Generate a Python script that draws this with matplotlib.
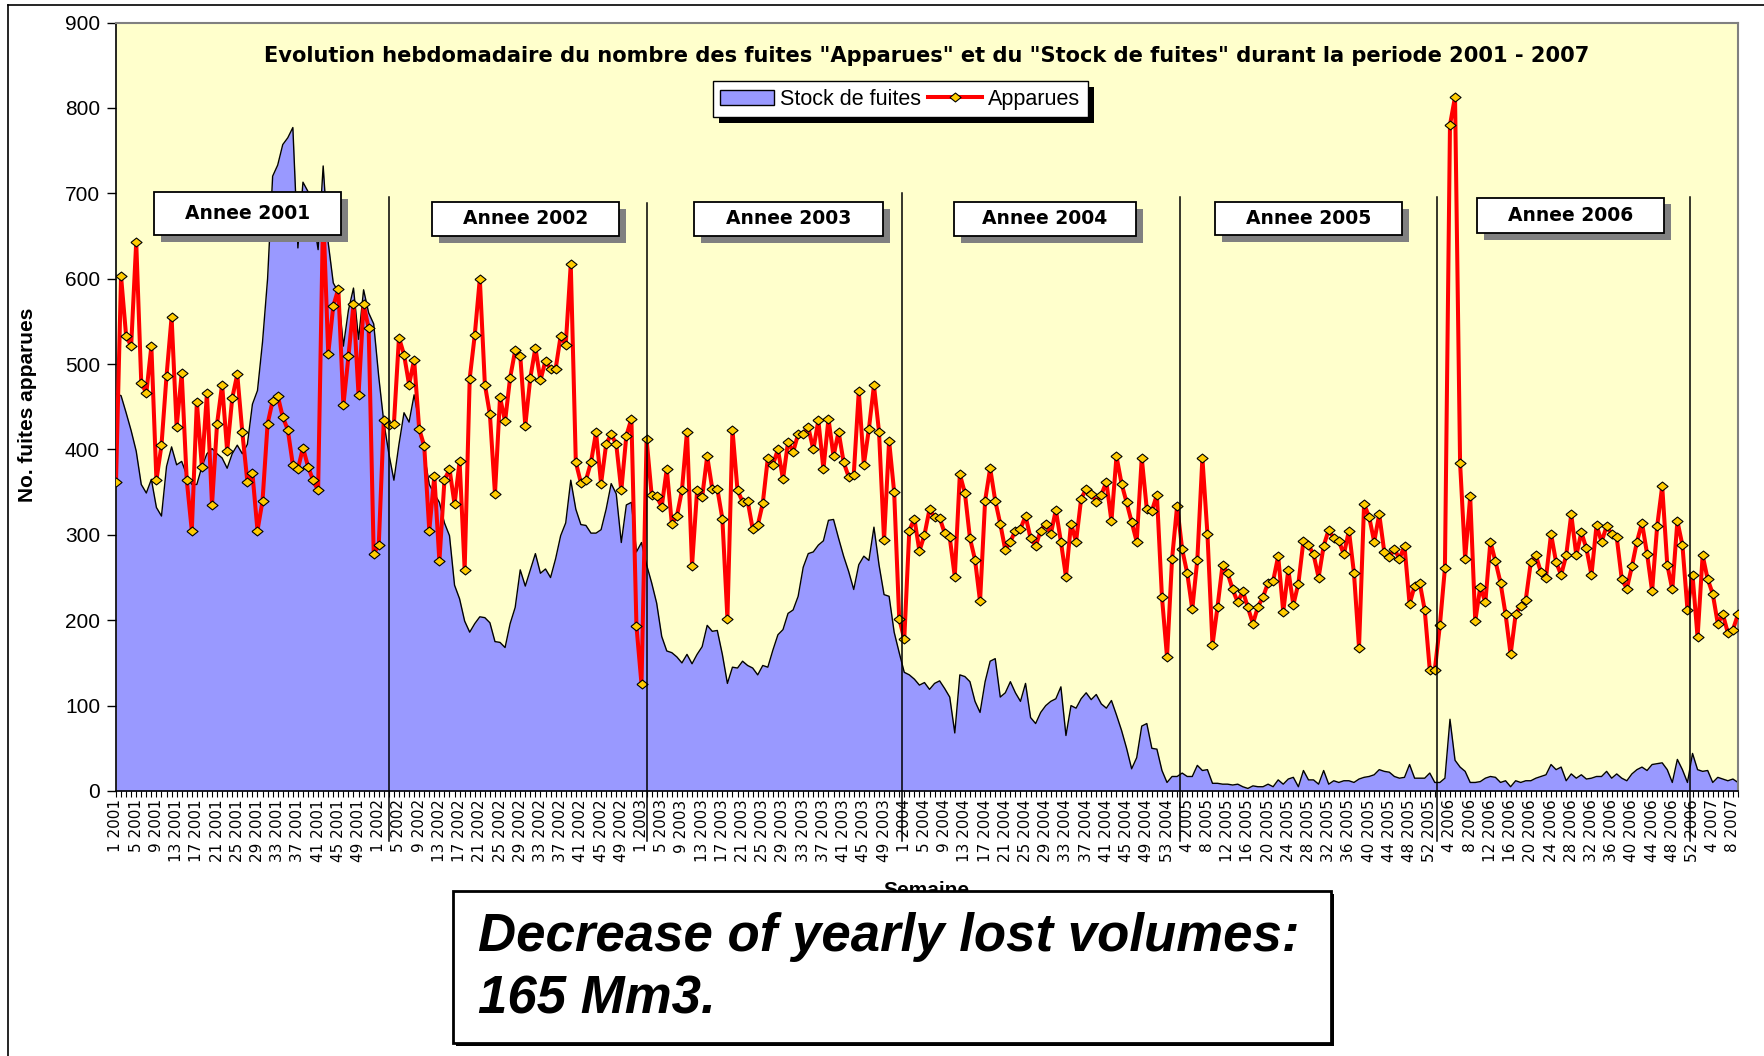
import matplotlib
matplotlib.use("Agg")
import matplotlib.pyplot as plt
import numpy as np
from matplotlib import font_manager
from matplotlib.lines import Line2D
from matplotlib.patches import Patch, Rectangle
from matplotlib.transforms import IdentityTransform

# weekly values, one list per year
YEARS = [2001, 2002, 2003, 2004, 2005, 2006, 2007]

apparues_2001 = [362, 603, 533, 521, 643, 478, 466, 521, 364, 405, 486, 555, 426, 489, 364, 305,
                 456, 379, 466, 335, 430, 476, 398, 460, 488, 420, 362, 372, 305, 340, 430, 457,
                 463, 438, 423, 382, 377, 402, 380, 364, 352, 680, 512, 568, 588, 452, 509, 570,
                 464, 570, 542, 278]
apparues_2002 = [288, 435, 429, 430, 531, 511, 476, 505, 424, 404, 305, 369, 269, 364, 377, 336,
                 386, 259, 483, 534, 600, 476, 441, 348, 461, 433, 484, 516, 510, 428, 484, 519,
                 481, 504, 494, 494, 533, 522, 617, 385, 361, 364, 385, 420, 360, 406, 418, 406,
                 352, 416, 436, 193]
apparues_2003 = [125, 412, 347, 345, 333, 377, 313, 322, 352, 421, 264, 352, 344, 392, 354, 354,
                 319, 202, 423, 352, 339, 340, 307, 311, 337, 390, 382, 400, 365, 409, 397, 418,
                 418, 426, 400, 434, 377, 436, 392, 421, 385, 368, 370, 468, 382, 424, 475, 421,
                 294, 410, 350, 202]
apparues_2004 = [178, 305, 319, 281, 300, 330, 321, 320, 302, 297, 251, 371, 349, 296, 271, 222,
                 340, 378, 340, 313, 282, 292, 305, 307, 322, 296, 287, 305, 313, 301, 329, 292,
                 251, 313, 292, 342, 354, 348, 339, 347, 362, 316, 392, 360, 338, 315, 292, 390,
                 330, 328, 347, 227, 157]
apparues_2005 = [272, 334, 283, 255, 213, 271, 390, 301, 171, 216, 265, 255, 236, 221, 234, 215,
                 196, 216, 227, 244, 246, 275, 210, 259, 218, 243, 293, 288, 277, 250, 287, 306,
                 296, 293, 277, 305, 255, 168, 336, 321, 292, 324, 280, 274, 283, 272, 287, 219,
                 240, 244, 212, 142]
apparues_2006 = [142, 194, 261, 780, 813, 384, 272, 345, 199, 239, 221, 292, 269, 244, 207, 160,
                 207, 217, 224, 268, 276, 256, 250, 301, 268, 253, 276, 324, 276, 303, 284, 253,
                 311, 292, 310, 301, 297, 248, 237, 263, 292, 314, 278, 234, 310, 357, 265, 236,
                 316, 288, 212, 253]
apparues_2007 = [180, 276, 248, 231, 196, 207, 185, 189, 207]

stock_2001 = [465, 463, 443, 422, 398, 359, 349, 365, 332, 322, 380, 403, 382, 386, 370, 359,
              359, 380, 395, 401, 395, 390, 378, 395, 405, 395, 406, 453, 469, 526, 600, 720,
              733, 757, 765, 777, 636, 713, 702, 673, 634, 732, 642, 595, 584, 521, 563, 589,
              529, 587, 560, 547]
stock_2002 = [485, 432, 395, 364, 406, 443, 432, 464, 432, 395, 359, 348, 338, 314, 299, 241,
              225, 199, 186, 196, 204, 203, 197, 175, 174, 168, 196, 215, 259, 240, 259, 278,
              255, 260, 250, 272, 299, 314, 364, 330, 312, 311, 302, 302, 306, 330, 360, 348,
              291, 335, 338, 280]
stock_2003 = [291, 265, 244, 220, 181, 164, 162, 157, 150, 160, 149, 160, 169, 194, 187, 188,
              160, 126, 145, 144, 152, 147, 144, 136, 147, 145, 165, 183, 189, 208, 212, 228,
              262, 278, 280, 288, 293, 317, 318, 296, 275, 257, 236, 265, 275, 270, 309, 265,
              230, 228, 186, 162]
stock_2004 = [139, 136, 131, 124, 127, 119, 126, 129, 120, 110, 68, 136, 134, 128, 105, 92,
              128, 152, 155, 110, 115, 128, 115, 105, 126, 86, 79, 92, 100, 105, 108, 122,
              65, 100, 97, 108, 115, 107, 113, 102, 97, 106, 89, 71, 50, 26, 39, 76,
              79, 50, 49, 24, 10]
stock_2005 = [17, 17, 21, 17, 17, 30, 24, 25, 9, 9, 8, 8, 7, 8, 5, 3,
              6, 5, 5, 8, 5, 13, 8, 14, 16, 5, 24, 13, 13, 8, 24, 8,
              12, 10, 12, 12, 10, 14, 16, 17, 19, 25, 23, 22, 17, 15, 16, 31,
              15, 15, 15, 21]
stock_2006 = [10, 10, 15, 84, 36, 28, 23, 10, 10, 11, 15, 17, 16, 10, 12, 5,
              12, 10, 12, 12, 15, 17, 19, 31, 25, 28, 12, 20, 15, 19, 14, 15,
              17, 17, 23, 15, 20, 15, 12, 20, 25, 28, 24, 31, 32, 33, 25, 10,
              37, 25, 10, 44]
stock_2007 = [25, 23, 24, 10, 16, 14, 12, 14, 10]

APPARUES = [apparues_2001, apparues_2002, apparues_2003, apparues_2004,
            apparues_2005, apparues_2006, apparues_2007]
STOCK = [stock_2001, stock_2002, stock_2003, stock_2004, stock_2005, stock_2006, stock_2007]
YEAR_LABELS = ["Annee 2001", "Annee 2002", "Annee 2003", "Annee 2004", "Annee 2005", "Annee 2006"]

apparues = np.concatenate(APPARUES)
stock = np.concatenate(STOCK)
weeks = [f"{w} {y}" for y, vals in zip(YEARS, APPARUES) for w in range(1, len(vals) + 1)]
x = np.arange(len(apparues))

# layout (positions in week-index / value units)
SEP_X = [54, 105, 155.5, 210.5, 261.5, 311.5]
SEP_TOP = [696, 689, 700, 696, 696, 696]
BOXES = [(7.5, 651, 37, 50), (62.5, 650, 37, 40), (114.4, 650, 37.4, 40),
         (165.8, 650, 36, 40), (217.5, 651, 37, 39), (269.3, 653, 37, 42)]

names = {f.name for f in font_manager.fontManager.ttflist}
NARROW = "Liberation Sans Narrow" if "Liberation Sans Narrow" in names else "Liberation Sans"
plt.rcParams["font.family"] = ["Liberation Sans", "DejaVu Sans"]

fig = plt.figure(figsize=(17.64, 10.56), dpi=100)
ax = fig.add_axes([116 / 1764, 1 - 791 / 1056, 1622 / 1764, 768.5 / 1056])
ax.set_facecolor("#FFFFCC")

ax.fill_between(x, stock, 0, color="#9999FF", lw=0, zorder=1)
ax.plot(x, stock, color="black", lw=1.0, zorder=2)
diamond = [(-1, 0), (0, 0.8), (1, 0), (0, -0.8), (-1, 0)]
ax.plot(x, apparues, color="#FF0000", lw=2.9, marker=diamond, ms=8,
        mfc="#FFCC00", mec="black", mew=0.8, zorder=3)

for sx, top in zip(SEP_X, SEP_TOP):
    ax.plot([sx, sx], [-59, top], color="black", lw=1.1, clip_on=False, zorder=4)

for (bx, by, bw, bh), lab in zip(BOXES, YEAR_LABELS):
    ax.add_patch(Rectangle((bx + 1.4, by - 8), bw, bh, fc="#808080", ec="none", zorder=6))
    ax.add_patch(Rectangle((bx, by), bw, bh, fc="white", ec="black", lw=1.3, zorder=7))
    ax.text(bx + bw / 2, by + bh / 2, lab, ha="center", va="center", fontsize=13.5,
            fontweight="bold", family="DejaVu Sans", zorder=8)

ax.set_xlim(0, len(x) - 1)
ax.set_ylim(0, 900)
ax.set_yticks(np.arange(0, 901, 100))
ax.set_xticks(x[::4])
ax.set_xticklabels(weeks[::4], rotation=90, fontsize=11, family="DejaVu Sans")
ax.set_xticks(x, minor=True)
ax.tick_params(axis="x", which="both", direction="out", length=4, width=0.8, pad=2)
ax.tick_params(axis="y", direction="out", length=6.5, width=1, pad=5, labelsize=15)
for lab in ax.get_yticklabels():
    lab.set_family(NARROW)
for side in ("left", "bottom"):
    ax.spines[side].set_color("black")
    ax.spines[side].set_linewidth(1.2)
for side in ("top", "right"):
    ax.spines[side].set_color("#808080")
    ax.spines[side].set_linewidth(1.5)

ax.text(0.5, 0.957, 'Evolution hebdomadaire du nombre des fuites "Apparues" et du '
        '"Stock de fuites" durant la periode 2001 - 2007',
        transform=ax.transAxes, ha="center", va="center", fontsize=15.1, fontweight="bold",
        family="DejaVu Sans")

handles = [Patch(facecolor="#9999FF", edgecolor="black", lw=1),
           Line2D([], [], color="#FF0000", lw=2.9, marker=diamond, ms=8,
                  mfc="#FFCC00", mec="black", mew=0.8)]
leg = ax.legend(handles, ["Stock de fuites", "Apparues"], loc="center",
                bbox_to_anchor=(0.4835, 0.90), ncol=2, frameon=True, fancybox=False,
                edgecolor="black", framealpha=1, fontsize=15.5, handlelength=2.5,
                handletextpad=0.3, columnspacing=0.3, borderpad=0.35)
leg.get_frame().set_linewidth(1)
leg.set_zorder(10)

fig.text(28 / 1764, 1 - 405 / 1056, "No. fuites apparues", rotation=90, ha="center",
         va="center", fontsize=15, fontweight="bold", family=NARROW)
fig.text(926 / 1764, 1 - 881 / 1056, "Semaine", ha="center", va="top",
         fontsize=15, fontweight="bold", zorder=2)

# outer frame lines
fig.add_artist(Line2D([8 / 1764, 8 / 1764], [0, 1 - 5 / 1056], transform=fig.transFigure,
                      color="black", lw=1.2))
fig.add_artist(Line2D([8 / 1764, 1], [1 - 5 / 1056, 1 - 5 / 1056], transform=fig.transFigure,
                      color="black", lw=1.2))

# annotation box
bx0, by0, bw, bh = 453 / 1764, 13 / 1056, 878 / 1764, 152 / 1056
fig.add_artist(Rectangle((bx0 + 3 / 1764, by0 - 3 / 1056), bw, bh, transform=fig.transFigure,
                         fc="black", ec="none", zorder=5))
fig.add_artist(Rectangle((bx0, by0), bw, bh, transform=fig.transFigure,
                         fc="white", ec="black", lw=2, zorder=5.1))
fig.text(478 / 1764, 1 - 937 / 1056, "Decrease of yearly lost volumes:", ha="left", va="center",
         fontsize=38, fontweight="bold", fontstyle="italic", family=NARROW, zorder=6)
fig.text(478 / 1764, 1 - 999 / 1056, "165 Mm3.", ha="left", va="center",
         fontsize=38, fontweight="bold", fontstyle="italic", family=NARROW, zorder=6)

# legend shadow, drawn in pixels behind the legend box
fig.canvas.draw()
bb = leg.get_window_extent()
ax.add_artist(Rectangle((bb.x0 + 6, bb.y0 - 6), bb.width, bb.height, transform=IdentityTransform(),
                        fc="black", ec="none", zorder=9.5, clip_on=False))

fig.savefig("out.png", dpi=100)
